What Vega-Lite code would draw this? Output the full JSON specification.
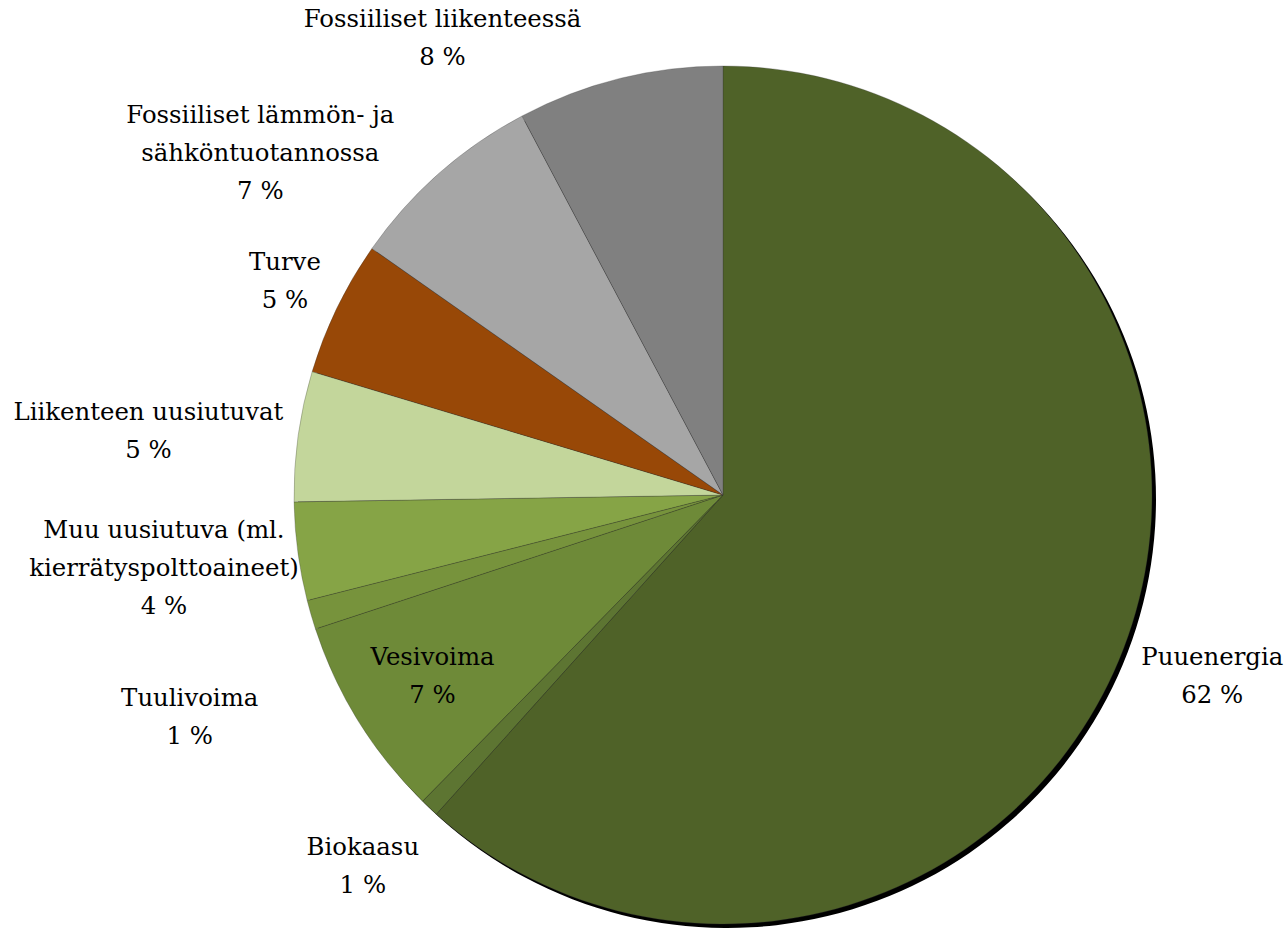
{
  "$schema": "https://vega.github.io/schema/vega-lite/v6.json",
  "width": 858,
  "height": 858,
  "autosize": {"type": "none"},
  "padding": {"left": 294, "top": 66, "right": 135, "bottom": 4},
  "background": "white",
  "config": {"view": {"stroke": null}, "text": {"font": "DejaVu Serif", "fontSize": 24.4, "lineHeight": 38, "lineBreak": "\n", "align": "center", "baseline": "middle", "color": "black"}},
  "data": {
    "values": [
      {"ord": 1, "cat": "Puuenergia", "value": 61.66, "label": "Puuenergia\n62 %"},
      {"ord": 2, "cat": "Biokaasu", "value": 0.7, "label": "Biokaasu\n1 %"},
      {"ord": 3, "cat": "Vesivoima", "value": 7.6, "label": "Vesivoima\n7 %"},
      {"ord": 4, "cat": "Tuulivoima", "value": 1.1, "label": "Tuulivoima\n1 %"},
      {"ord": 5, "cat": "Muu uusiutuva", "value": 3.7, "label": "Muu uusiutuva (ml.\nkierrätyspolttoaineet)\n4 %"},
      {"ord": 6, "cat": "Liikenteen uusiutuvat", "value": 4.9, "label": "Liikenteen uusiutuvat\n5 %"},
      {"ord": 7, "cat": "Turve", "value": 5.1, "label": "Turve\n5 %"},
      {"ord": 8, "cat": "Fossiiliset lämmön", "value": 7.5, "label": "Fossiiliset lämmön- ja\nsähköntuotannossa\n7 %"},
      {"ord": 9, "cat": "Fossiiliset liikenteessä", "value": 7.76, "label": "Fossiiliset liikenteessä\n8 %"}
    ]
  },
  "encoding": {
    "theta": {"field": "value", "type": "quantitative", "stack": true},
    "order": {"field": "ord", "type": "quantitative"}
  },
  "layer": [
    {
      "mark": {"type": "arc", "outerRadius": 429, "xOffset": 4, "yOffset": 4, "color": "black"}
    },
    {
      "mark": {"type": "arc", "outerRadius": 429, "stroke": "#333333", "strokeWidth": 0.8, "strokeOpacity": 0.35},
      "encoding": {
        "color": {
          "field": "cat", "type": "nominal", "legend": null,
          "scale": {
            "domain": ["Puuenergia", "Biokaasu", "Vesivoima", "Tuulivoima", "Muu uusiutuva", "Liikenteen uusiutuvat", "Turve", "Fossiiliset lämmön", "Fossiiliset liikenteessä"],
            "range": ["#4F6228", "#5D7532", "#6E8A38", "#77933C", "#86A446", "#C3D69B", "#984807", "#A6A6A6", "#808080"]
          }
        }
      }
    },
    {
      "mark": {"type": "text", "radius": 522, "thetaOffset": -0.01, "dy": -19},
      "encoding": {"text": {"condition": {"test": "datum.cat === 'Puuenergia'", "field": "label"}, "value": ""}}
    },
    {
      "mark": {"type": "text", "radius": 518, "thetaOffset": 0.015, "dy": -19},
      "encoding": {"text": {"condition": {"test": "datum.cat === 'Biokaasu'", "field": "label"}, "value": ""}}
    },
    {
      "mark": {"type": "text", "radius": 342, "dy": -18},
      "encoding": {"text": {"condition": {"test": "datum.cat === 'Vesivoima'", "field": "label"}, "value": ""}}
    },
    {
      "mark": {"type": "text", "radius": 578, "thetaOffset": -0.113, "dy": -19},
      "encoding": {"text": {"condition": {"test": "datum.cat === 'Tuulivoima'", "field": "label"}, "value": ""}}
    },
    {
      "mark": {"type": "text", "radius": 564, "dy": -38},
      "encoding": {"text": {"condition": {"test": "datum.cat === 'Muu uusiutuva'", "field": "label"}, "value": ""}}
    },
    {
      "mark": {"type": "text", "radius": 578, "thetaOffset": -0.029, "dy": -19},
      "encoding": {"text": {"condition": {"test": "datum.cat === 'Liikenteen uusiutuvat'", "field": "label"}, "value": ""}}
    },
    {
      "mark": {"type": "text", "radius": 487, "dy": -19},
      "encoding": {"text": {"condition": {"test": "datum.cat === 'Turve'", "field": "label"}, "value": ""}}
    },
    {
      "mark": {"type": "text", "radius": 575, "thetaOffset": -0.212, "dy": -38},
      "encoding": {"text": {"condition": {"test": "datum.cat === 'Fossiiliset lämmön'", "field": "label"}, "value": ""}}
    },
    {
      "mark": {"type": "text", "radius": 535, "thetaOffset": -0.308, "dy": -19},
      "encoding": {"text": {"condition": {"test": "datum.cat === 'Fossiiliset liikenteessä'", "field": "label"}, "value": ""}}
    }
  ]
}
